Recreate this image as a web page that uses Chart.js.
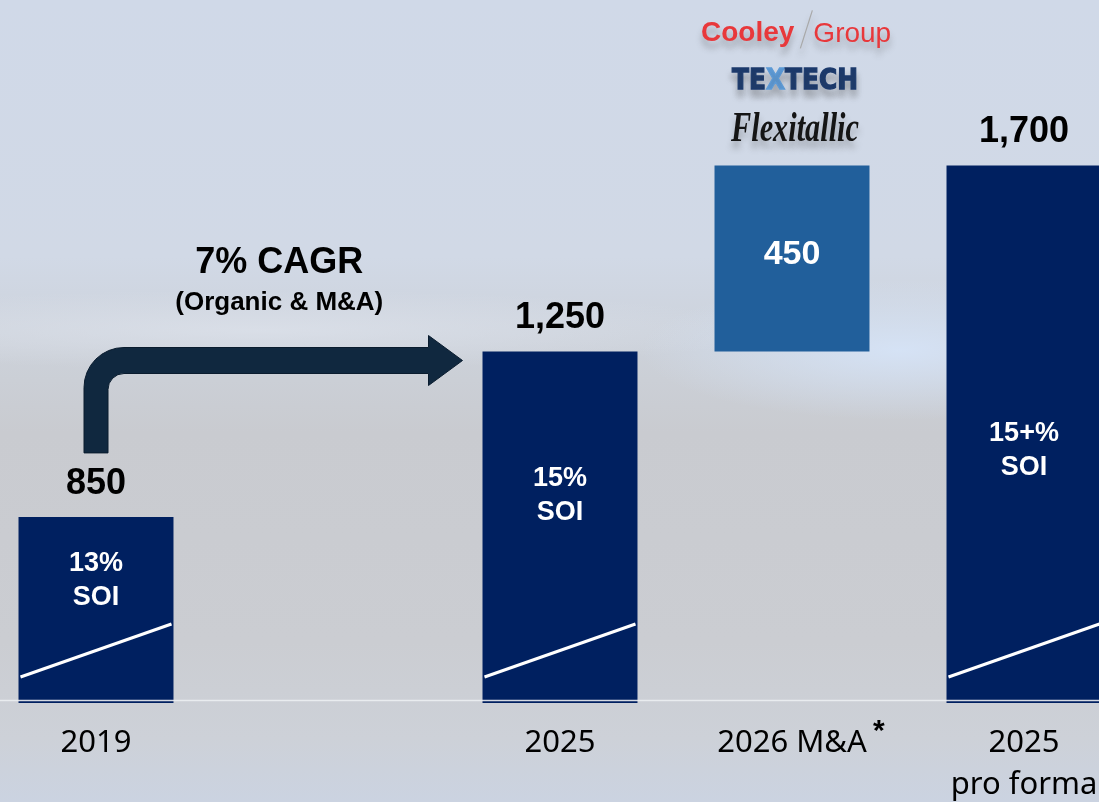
<!DOCTYPE html>
<html>
<head>
<meta charset="utf-8">
<script src="https://cdn.jsdelivr.net/npm/chart.js@4.4.1/dist/chart.umd.min.js"></script>
<style>
  html, body { margin: 0; padding: 0; width: 1099px; height: 802px; overflow: hidden; }
  body {
    position: relative;
    background:
      radial-gradient(ellipse 260px 70px at 900px 350px, rgba(214,228,248,0.9), rgba(214,228,248,0) 100%),
      radial-gradient(ellipse 520px 40px at 260px 330px, rgba(222,227,236,0.7), rgba(222,227,236,0) 100%),
      linear-gradient(180deg, #d0d9e8 0%, #d1d9e6 32%, #ccd1d9 44%, #c9cbd0 54%, #cbcdd2 80%, #cdd1d8 92%, #cbd3e1 100%);
  }
  #wrap { position: absolute; left: -20px; top: 0; width: 1160px; height: 802px; }
</style>
</head>
<body>
<div id="wrap"><canvas id="salesChart" width="1160" height="802"></canvas></div>
<script>
// sales, $M
const categories = ['2019', '', '2025', '2026 M&A', ['2025', 'pro forma']];
const salesValues = [850, null, 1250, null, 1700];
const acquiredRange = [null, null, null, [1250, 1700], null];
const soiLabels = [['13%', 'SOI'], null, ['15%', 'SOI'], null, ['15+%', 'SOI']];
const cagrLabels = ['7% CAGR', '(Organic & M&A)'];
const yRange = [400, 2100];

const navy = '#002060';
const maBlue = '#215f9b';

// extra drawing: labels, trend lines, arrow, logos
const decorations = {
  id: 'decorations',
  afterDatasetsDraw(chart) {
    const ctx = chart.ctx;
    const area = chart.chartArea;
    const bars = chart.getDatasetMeta(0).data;
    const maBars = chart.getDatasetMeta(1).data;
    const soiPos = [0.34, 0, 0.41, 0, 0.53];

    ctx.save();
    // baseline line
    ctx.strokeStyle = 'rgba(236,238,242,0.9)';
    ctx.lineWidth = 1.5;
    ctx.beginPath();
    ctx.moveTo(area.left, area.bottom - 2.5);
    ctx.lineTo(area.right, area.bottom - 2.5);
    ctx.stroke();

    ctx.textAlign = 'center';
    ctx.textBaseline = 'middle';

    bars.forEach((bar, i) => {
      if (salesValues[i] == null) return;
      const left = bar.x - bar.width / 2, right = bar.x + bar.width / 2;
      const bottom = area.bottom;
      // white trend line
      ctx.strokeStyle = '#ffffff';
      ctx.lineWidth = 3;
      ctx.beginPath();
      ctx.moveTo(left + 2, bottom - 26);
      ctx.lineTo(right - 2, bottom - 79);
      ctx.stroke();
      // value label
      ctx.fillStyle = '#000000';
      ctx.font = 'bold 36px "Liberation Sans", Arial, sans-serif';
      ctx.fillText(salesValues[i].toLocaleString('en-US'), bar.x, bar.y - 33);
      // SOI text
      const mid = bar.y + (bottom - bar.y) * soiPos[i];
      ctx.fillStyle = '#ffffff';
      ctx.font = 'bold 27px "Liberation Sans", Arial, sans-serif';
      ctx.fillText(soiLabels[i][0], bar.x, mid - 17);
      ctx.fillText(soiLabels[i][1], bar.x, mid + 17);
    });

    maBars.forEach((bar, i) => {
      if (acquiredRange[i] == null) return;
      const r = acquiredRange[i];
      ctx.fillStyle = '#ffffff';
      ctx.font = 'bold 34px "Liberation Sans", Arial, sans-serif';
      ctx.fillText(String(r[1] - r[0]), bar.x, (bar.y + bar.base) / 2 - 4);

      // logos of the acquired companies
      const cx = bar.x + 3;
      ctx.save();
      ctx.shadowColor = 'rgba(70,70,70,0.35)';
      ctx.shadowBlur = 6;
      ctx.shadowOffsetY = 7;
      ctx.textAlign = 'left';
      ctx.fillStyle = '#e8383b';
      ctx.font = 'bold 28px "Liberation Sans", Arial, sans-serif';
      let x = cx - 94;
      ctx.fillText('Cooley', x, bar.y - 132);
      x += ctx.measureText('Cooley').width;
      ctx.strokeStyle = '#a8a8a8';
      ctx.lineWidth = 1.2;
      ctx.beginPath();
      ctx.moveTo(x + 6, bar.y - 117);
      ctx.lineTo(x + 18, bar.y - 155);
      ctx.stroke();
      ctx.font = '28px "Liberation Sans", Arial, sans-serif';
      ctx.fillText('Group', x + 19, bar.y - 131);

      // TEXTECH
      ctx.font = 'bold 26px "DejaVu Sans", sans-serif';
      const parts = [['TE', '#1c3a6c'], ['X', '#5d9ad6'], ['TECH', '#1c3a6c']];
      const tw = ctx.measureText('TEXTECH').width;
      const sx = 126 / tw;
      ctx.save();
      ctx.translate(cx - 63, bar.y - 84);
      ctx.scale(sx, 1.1);
      let px = 0;
      parts.forEach(p => {
        ctx.fillStyle = p[1];
        ctx.fillText(p[0], px, 0);
        ctx.lineWidth = 1.2;
        ctx.strokeStyle = p[1];
        ctx.strokeText(p[0], px, 0);
        px += ctx.measureText(p[0]).width;
      });
      ctx.restore();

      // Flexitallic
      ctx.font = 'bold italic 36px "Liberation Serif", serif';
      const fw = ctx.measureText('Flexitallic').width;
      ctx.save();
      ctx.translate(cx - 64, bar.y - 36);
      ctx.scale(128 / fw, 1.2);
      ctx.fillStyle = '#151515';
      ctx.fillText('Flexitallic', 0, 0);
      ctx.restore();
      ctx.restore();

      // asterisk after the category label
      ctx.font = '31px "Noto Sans", sans-serif';
      const lw = ctx.measureText(categories[i]).width;
      ctx.fillStyle = '#000000';
      ctx.font = 'bold 30px "Liberation Sans", Arial, sans-serif';
      ctx.fillText('*', bar.x + lw / 2 + 12, area.bottom + 29);
    });

    // CAGR arrow from 2019 bar to 2025 bar
    const b0 = bars[0], b2 = bars[2];
    const tipX = b2.x - b2.width / 2 - 20;
    const headX = tipX - 34;
    const hMid = b2.y + 9;
    const hTop = hMid - 13, hBot = hMid + 13;
    const x0 = b0.x - 12, x1 = b0.x + 12;
    const yBottom = b0.y - 64;
    const R = 40, r = R - 24;
    ctx.fillStyle = '#10283f';
    ctx.strokeStyle = '#0a1c2e';
    ctx.lineWidth = 1;
    ctx.beginPath();
    ctx.moveTo(x0, yBottom);
    ctx.lineTo(x0, hTop + R);
    ctx.arcTo(x0, hTop, x0 + R, hTop, R);
    ctx.lineTo(headX, hTop);
    ctx.lineTo(headX, hMid - 25);
    ctx.lineTo(tipX, hMid);
    ctx.lineTo(headX, hMid + 25);
    ctx.lineTo(headX, hBot);
    ctx.lineTo(x1 + r, hBot);
    ctx.arcTo(x1, hBot, x1, hBot + r, r);
    ctx.lineTo(x1, yBottom);
    ctx.closePath();
    ctx.fill();
    ctx.stroke();

    const cagrX = (b0.x + tipX) / 2;
    ctx.fillStyle = '#000000';
    ctx.font = 'bold 36px "Liberation Sans", Arial, sans-serif';
    ctx.fillText(cagrLabels[0], cagrX, hMid - 97);
    ctx.font = 'bold 26px "Liberation Sans", Arial, sans-serif';
    ctx.fillText(cagrLabels[1], cagrX, hMid - 58);
    ctx.restore();
  }
};

const ctx = document.getElementById('salesChart').getContext('2d');
const salesChart = new Chart(ctx, {
  type: 'bar',
  data: {
    labels: categories,
    datasets: [
      {
        label: 'Sales',
        data: salesValues,
        backgroundColor: navy,
        grouped: false,
        barPercentage: 0.668,
        categoryPercentage: 1
      },
      {
        label: 'M&A',
        data: acquiredRange,
        backgroundColor: maBlue,
        grouped: false,
        barPercentage: 0.668,
        categoryPercentage: 1
      }
    ]
  },
  options: {
    responsive: false,
    animation: false,
    layout: { padding: 0 },
    scales: {
      x: {
        grid: { display: false, drawTicks: false },
        border: { display: false },
        ticks: {
          color: '#000000',
          padding: 19,
          maxRotation: 0,
          autoSkip: false,
          font: { family: '"Noto Sans", sans-serif', size: 31, lineHeight: 1.35 }
        },
        afterFit: function (scale) { scale.height = 99; }
      },
      y: {
        display: false,
        min: yRange[0],
        max: yRange[1]
      }
    },
    plugins: {
      legend: { display: false },
      tooltip: { enabled: false }
    }
  },
  plugins: [decorations]
});
</script>
</body>
</html>
